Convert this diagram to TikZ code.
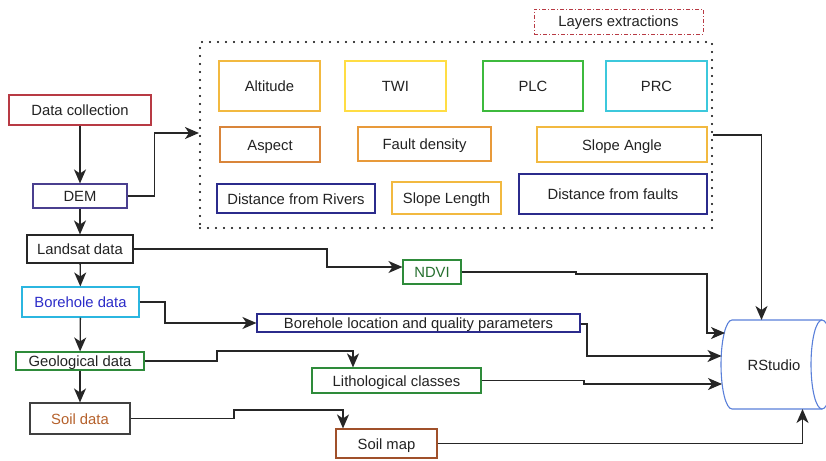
\documentclass[tikz,border=0pt]{standalone}
\usepackage{fontspec}
\setmainfont{Liberation Sans}
\usetikzlibrary{arrows.meta}
\definecolor{cRed}{HTML}{B83A44}
\definecolor{cNavy}{HTML}{2B2B8C}
\definecolor{cPurple}{HTML}{4A3F8F}
\definecolor{cCyan}{HTML}{2BB6E0}
\definecolor{cBlueTxt}{HTML}{2B2BC8}
\definecolor{cGreen}{HTML}{2E8B3A}
\definecolor{cBGreen}{HTML}{3DBA3D}
\definecolor{cBrownTxt}{HTML}{B5602A}
\definecolor{cBrown}{HTML}{A0502A}
\definecolor{cOrange}{HTML}{D9853A}
\definecolor{cOrange2}{HTML}{E89A3A}
\definecolor{cGold}{HTML}{F2B940}
\definecolor{cYellow}{HTML}{FFDD44}
\definecolor{cPRC}{HTML}{3CC8DC}
\definecolor{cRS}{HTML}{5A80DA}
\definecolor{cTxt}{HTML}{222222}
\tikzset{
  box/.style={draw, line width=1.1pt, inner sep=0pt, text=cTxt,
    text height=11pt, text depth=0pt,
    font=\fontsize{14.8}{17}\selectfont},
  arr/.style={line width=1.3pt, draw=black!85, -{Stealth[length=14pt,width=12pt,inset=4pt]}},
}
\begin{document}
\begin{tikzpicture}[x=1pt,y=-1pt]
\useasboundingbox (0,0) rectangle (826,460);
% left column
\node[box, draw=cRed, minimum width=142pt, minimum height=30pt] (dc) at (80,110) {Data collection};
\node[box, draw=cPurple, minimum width=94pt, minimum height=24pt] (dem) at (80,196) {DEM};
\node[box, draw=black!85, minimum width=106pt, minimum height=28pt] (land) at (80,249) {Landsat data};
\node[box, draw=cCyan, text=cBlueTxt, minimum width=117pt, minimum height=30pt] (bore) at (80.5,302) {Borehole data};
\node[box, draw=cGreen, minimum width=128pt, minimum height=18pt] (geo) at (80,361) {Geological data};
\node[box, draw=black!75, text=cBrownTxt, minimum width=100pt, minimum height=31pt] (soil) at (80,418.5) {Soil data};
% layers
\node[draw=black, line width=2.1pt, line cap=round, dash pattern=on 0pt off 8pt,
  minimum width=512pt, minimum height=186pt, inner sep=0pt] (dots) at (456,135) {};
\node[box, draw=cRed, line width=0.9pt, dash pattern=on 4pt off 2pt on 1pt off 2pt,
  minimum width=169pt, minimum height=25pt] (layers) at (618.5,21.5) {Layers extractions};
\node[box, draw=cGold, minimum width=101pt, minimum height=50pt] (alt) at (269.5,86) {Altitude};
\node[box, draw=cYellow, minimum width=101pt, minimum height=50pt] (twi) at (395.5,86) {TWI};
\node[box, draw=cBGreen, minimum width=100pt, minimum height=50pt] (plc) at (533,86) {PLC};
\node[box, draw=cPRC, minimum width=101pt, minimum height=50pt] (prc) at (656.5,86) {PRC};
\node[box, draw=cOrange, minimum width=100pt, minimum height=35pt] (asp) at (270,144.5) {Aspect};
\node[box, draw=cOrange2, minimum width=133pt, minimum height=34pt] (fault) at (424.5,144) {Fault density};
\node[box, draw=cGold, minimum width=170pt, minimum height=35pt] (sang) at (622,144.5) {Slope Angle};
\node[box, draw=cNavy, minimum width=158pt, minimum height=29pt] (dfr) at (296,198.5) {Distance from Rivers};
\node[box, draw=cGold, minimum width=109pt, minimum height=32pt] (slen) at (446.5,198) {Slope Length};
\node[box, draw=cNavy, minimum width=188pt, minimum height=40pt] (dff) at (613,194) {Distance from faults};
% derived
\node[box, draw=cGreen, text=cGreen!80!black, minimum width=58pt, minimum height=24pt] (ndvi) at (432,272) {NDVI};
\node[box, draw=cNavy, minimum width=323pt, minimum height=18pt] (bloc) at (418.5,323) {Borehole location and quality parameters};
\node[box, draw=cGreen, minimum width=169pt, minimum height=25pt] (lith) at (396.5,380.5) {Lithological classes};
\node[box, draw=cBrown, minimum width=101pt, minimum height=29pt] (smap) at (386.5,443.5) {Soil map};
% RStudio cylinder
\begin{scope}
\clip (0,0) rectangle (826,460);
\draw[cRS, line width=1.1pt, fill=white] (822,320) -- (732,320)
  arc[start angle=270, end angle=90, x radius=11, y radius=44.5] -- (822,409);
\draw[cRS, line width=1.1pt, fill=white] (822,364.5) ellipse[x radius=11, y radius=44.5];
\end{scope}
\node[box, draw=none, minimum width=101pt, minimum height=89pt] (rs) at (774,364.5) {RStudio};
\coordinate (rsA) at (725,333);
\coordinate (rsB) at (721.5,356);
\coordinate (rsC) at (722,384);
\coordinate (rsT) at (761.5,320);
\coordinate (rsD) at (802.5,409);
% connectors
\draw[arr] (dc) -- (dem);
\draw[arr] (dem) -- (land);
\draw[arr] (land) -- (bore);
\draw[arr] (bore) -- (geo);
\draw[arr] (geo) -- (soil);
\draw[arr] (dem.east) -- ++(27,0) |- ([yshift=2pt]dots.west);
\draw[arr] (land.east) -- (327,249) |- ([yshift=5pt]ndvi.west);
\draw[arr] (ndvi.east) -- (576,272) -- (576,274) -- (707,274) |- (rsA);
\draw[arr] (bore.east) -- (165,302) |- (bloc.west);
\draw[arr] ([yshift=-1pt]bloc.east) -- (587,324) |- (rsB);
\draw[arr] (geo.east) -- (217,361) -- (217,351) -- (353,351) -- ([xshift=-43.5pt]lith.north);
\draw[arr] (lith.east) -- (584,380.5) -- (584,384) -- (rsC);
\draw[arr] (soil.east) -- (234,418.5) -- (234,410) -- (343,410) -- ([xshift=-43.5pt]smap.north);
\draw[arr] (smap.east) -| (rsD);
\draw[arr] (dots.east) -| (rsT);
\end{tikzpicture}
\end{document}
